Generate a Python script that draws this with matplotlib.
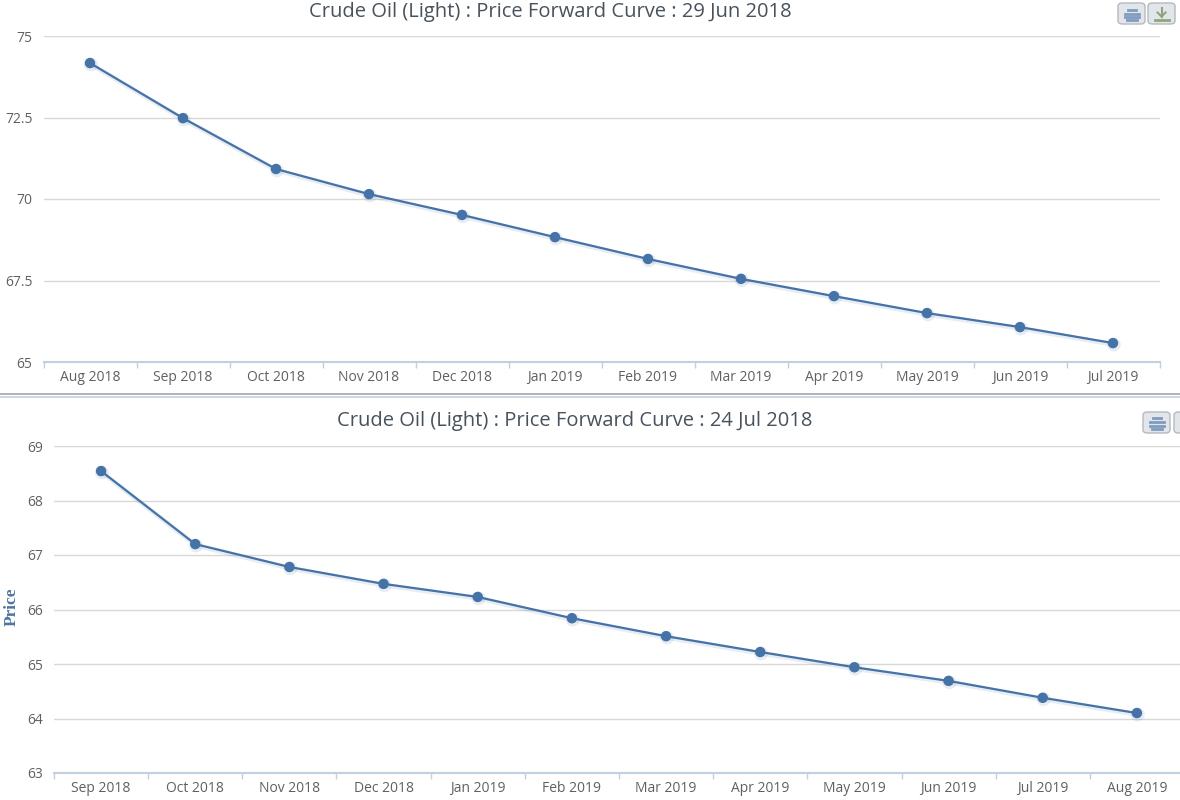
import matplotlib
matplotlib.use("Agg")
import matplotlib.pyplot as plt
import matplotlib.patheffects as pe
from matplotlib.patches import FancyBboxPatch
from matplotlib.lines import Line2D
import numpy as np

# top chart: 29 Jun 2018 curve
months_jun = ['Aug 2018', 'Sep 2018', 'Oct 2018', 'Nov 2018', 'Dec 2018', 'Jan 2019',
              'Feb 2019', 'Mar 2019', 'Apr 2019', 'May 2019', 'Jun 2019', 'Jul 2019']
price_jun = [74.17, 72.48, 70.92, 70.15, 69.51, 68.83, 68.16, 67.55, 67.02, 66.50, 66.07, 65.58]
yticks_jun = [65, 67.5, 70, 72.5, 75]
ylabels_jun = ['65', '67.5', '70', '72.5', '75']

# bottom chart: 24 Jul 2018 curve
months_jul = ['Sep 2018', 'Oct 2018', 'Nov 2018', 'Dec 2018', 'Jan 2019', 'Feb 2019',
              'Mar 2019', 'Apr 2019', 'May 2019', 'Jun 2019', 'Jul 2019', 'Aug 2019']
price_jul = [68.54, 67.20, 66.78, 66.47, 66.23, 65.84, 65.51, 65.22, 64.94, 64.69, 64.38, 64.10]
yticks_jul = [63, 64, 65, 66, 67, 68, 69]

title_jun = 'Crude Oil (Light) : Price Forward Curve : 29 Jun 2018'
title_jul = 'Crude Oil (Light) : Price Forward Curve : 24 Jul 2018'

LINE = '#4572A7'
GRID = '#D8D8D8'
AXIS = '#C0D0E0'
LABEL = '#606060'
TITLE = '#48525C'

plt.rcParams['font.family'] = ['Open Sans', 'DejaVu Sans']

W, H = 1180, 800
fig = plt.figure(figsize=(W / 100, H / 100), dpi=100)


def px_axes(left, top, right, bottom):
    return fig.add_axes([left / W, 1 - bottom / H, (right - left) / W, (bottom - top) / H])


def style(ax, labels, y, yticks, ylabels, ylim):
    x = np.arange(len(labels))
    ax.plot(x, y, color=LINE, lw=1.6, marker='o', ms=6.5, zorder=3,
            path_effects=[pe.SimpleLineShadow(offset=(0.6, -1.0), shadow_color=LINE, alpha=0.12,
                                              linewidth=3.5), pe.Normal()])
    ax.set_xlim(-0.5, len(labels) - 0.5)
    ax.set_ylim(*ylim)
    ax.set_yticks(yticks)
    ax.set_yticklabels(ylabels)
    ax.set_xticks(x)
    ax.set_xticklabels(labels)
    ax.set_xticks(np.arange(len(labels) + 1) - 0.5, minor=True)
    ax.tick_params(axis='x', which='major', length=0, pad=6, labelsize=10, labelcolor=LABEL)
    ax.tick_params(axis='x', which='minor', length=4, width=1, color=AXIS)
    ax.tick_params(axis='y', length=0, pad=8, labelsize=10, labelcolor=LABEL)
    for t in yticks[1:]:
        ax.axhline(t, color=GRID, lw=1, zorder=1)
    for s in ['top', 'right', 'left']:
        ax.spines[s].set_visible(False)
    ax.spines['bottom'].set_color(AXIS)
    ax.spines['bottom'].set_linewidth(1.5)
    ax.set_facecolor('white')


def button(xpx, ypx, kind):
    b = FancyBboxPatch((xpx / W, 1 - (ypx + 22) / H), 27 / W, 21 / H,
                       boxstyle='round,pad=0,rounding_size=0.004', transform=fig.transFigure,
                       facecolor='#E2E6EA', edgecolor='#B4BAC0', lw=1, zorder=6)
    fig.patches.append(b)
    cx, cy = xpx + 13.5, ypx + 11.5
    if kind == 'print':
        for dy, half in [(-4, 4), (0, 7), (3, 7), (6, 5)]:
            fig.lines.append(Line2D([(cx - half) / W, (cx + half) / W],
                                    [1 - (cy + dy) / H, 1 - (cy + dy) / H],
                                    transform=fig.transFigure, color='#7F9CBF', lw=2, zorder=7))
    else:
        fig.lines.append(Line2D([cx / W, cx / W], [1 - (cy - 6) / H, 1 - (cy + 3) / H],
                                transform=fig.transFigure, color='#8FA57A', lw=1.5, zorder=7))
        fig.lines.append(Line2D([(cx - 4) / W, cx / W, (cx + 4) / W],
                                [1 - (cy - 1) / H, 1 - (cy + 3) / H, 1 - (cy - 1) / H],
                                transform=fig.transFigure, color='#8FA57A', lw=1.5, zorder=7))
        fig.lines.append(Line2D([(cx - 7) / W, (cx + 7) / W], [1 - (cy + 6) / H, 1 - (cy + 6) / H],
                                transform=fig.transFigure, color='#8FA57A', lw=2, zorder=7))


ax1 = px_axes(43.5, 36, 1159.5, 362)
style(ax1, months_jun, price_jun, yticks_jun, ylabels_jun, (65, 75))
fig.text(550 / W, 1 - 12 / H, title_jun, ha='center', va='center', fontsize=14.5, color=TITLE)

# partly hidden x axis title of the top chart
fig.text(596 / W, 1 - 402 / H, 'Contract', ha='center', va='center', fontsize=10.5,
         color='#8090a0', fontweight='bold', zorder=3)
cover = plt.Rectangle((0, 0), 1, 1 - 396 / H, transform=fig.transFigure,
                      facecolor='white', edgecolor='none', zorder=3.5)
fig.patches.append(cover)

ax2 = px_axes(54, 446, 1184, 773)
ax2.set_zorder(4)
style(ax2, months_jul, price_jul, yticks_jul, [str(v) for v in yticks_jul], (63, 69))
fig.text(575 / W, 1 - 421 / H, title_jul, ha='center', va='center', fontsize=14.5,
         color=TITLE, zorder=5)
fig.text(12 / W, 1 - 607 / H, 'Price', rotation=90, ha='center', va='center', fontsize=12.5,
         color='#4d759e', fontweight='bold', family=['Liberation Serif', 'DejaVu Serif'], zorder=5)

# separator between the two screenshots
fig.lines.append(Line2D([0, 1], [1 - 394 / H, 1 - 394 / H], transform=fig.transFigure,
                        color='#9AA8B8', lw=1.2, zorder=6))
fig.lines.append(Line2D([0, 1], [1 - 397 / H, 1 - 397 / H], transform=fig.transFigure,
                        color='#C8D0D8', lw=1.2, zorder=6))

button(1118, 2, 'print')
button(1148, 2, 'save')
button(1143, 411, 'print')
button(1174, 411, 'save')

fig.savefig('out.png', dpi=100, facecolor='white')
